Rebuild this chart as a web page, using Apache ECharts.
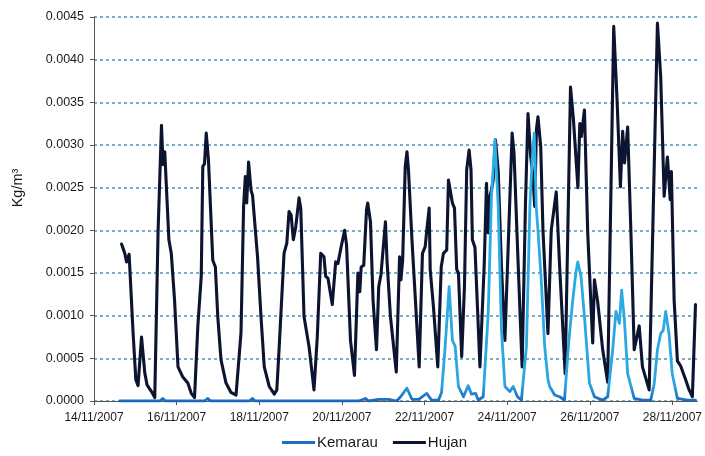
<!DOCTYPE html>
<html>
<head>
<meta charset="utf-8">
<script src="https://cdn.jsdelivr.net/npm/echarts@6/dist/echarts.min.js"></script>
<style>
  html, body { margin: 0; padding: 0; background: #fff; }
  #chart { width: 705px; height: 456px; }
</style>
</head>
<body>
<div id="chart"></div>
<script>
// Hours after 14/11/2007 00:00 and concentration (Kg/m3)
const tickLabels = ['14/11/2007', '16/11/2007', '18/11/2007', '20/11/2007',
  '22/11/2007', '24/11/2007', '26/11/2007', '28/11/2007'];

const hujanHours = [16.0, 17.9, 18.9, 20.4, 22.7, 24.3, 25.6, 27.6, 28.5, 29.5, 30.8, 33.4, 35.3,
  37.2, 39.2, 40.1, 41.1, 43.5, 44.9, 46.8, 48.8, 51.6, 54.5, 56.5, 58.4,
  60.3, 62.3, 63.2, 64.2, 65.2, 66.5, 69.0, 70.5, 71.9, 73.8, 76.7, 79.6, 82.5,
  85.4, 86.9, 87.9, 88.7, 89.8, 91.2, 92.1, 95.0, 97.0, 98.9, 101.8, 104.7, 106.2,
  107.6, 108.5, 110.4, 112.0, 113.3, 114.5, 115.8, 117.2, 119.1, 120.1, 122.0, 124.9, 127.8,
  129.7, 131.7, 133.6, 134.6, 135.9, 138.4, 140.4, 141.7, 143.6, 145.6, 146.7, 149.0, 151.3,
  153.3, 154.4, 155.2, 156.7, 158.3, 159.0, 160.6, 162.1, 164.1,
  165.4, 166.7, 169.3, 170.2, 172.2, 175.6,
  177.5, 178.3, 179.3, 180.8, 181.8, 182.7, 184.7, 186.6, 188.9,
  190.8, 192.4, 193.3, 194.7, 195.3, 197.2, 199.7,
  201.7, 203.0, 204.9, 205.9, 206.9, 208.2, 209.4, 210.7, 211.7, 213.6,
  215.2, 216.5, 217.9, 219.0, 219.8, 221.3, 224.2,
  226.7, 228.0, 229.0, 230.0, 230.9, 231.9, 233.2, 234.8, 236.7, 238.7,
  240.6, 242.9, 244.0, 246.0, 248.7,
  250.6, 252.1, 253.7, 255.0, 256.0, 257.0, 257.9, 259.5, 260.8, 263.7,
  265.6, 268.5, 270.5, 273.7,
  276.8, 278.5, 281.1, 282.2, 283.1, 284.9, 286.8, 289.7, 290.7, 292.6, 295.5, 298.4,
  301.9, 303.8, 305.8, 307.1, 308.2, 310.0, 311.9, 313.8, 316.7, 318.6, 322.5,
  327.3, 329.2, 331.2, 333.1, 334.7, 335.4, 337.0, 338.9, 340.8, 343.7, 345.7, 347.6, 349.4];

const hujanValues = [0.00184, 0.00173, 0.00163, 0.00172, 0.00080, 0.00025, 0.00018, 0.00075, 0.00074, 0.00033, 0.00019, 0.00011, 0.00004,
  0.00197, 0.00323, 0.00277, 0.00292, 0.00189, 0.00173, 0.00118, 0.00040, 0.00028, 0.00021, 0.00009, 0.00004,
  0.00087, 0.00146, 0.00275, 0.00278, 0.00314, 0.00282, 0.00165, 0.00157, 0.00099, 0.00048, 0.00021, 0.00010, 0.00007,
  0.00080, 0.00228, 0.00263, 0.00232, 0.00280, 0.00247, 0.00241, 0.00169, 0.00099, 0.00040, 0.00017, 0.00008, 0.00013,
  0.00064, 0.00064, 0.00173, 0.00185, 0.00222, 0.00218, 0.00189, 0.00204, 0.00238, 0.00226, 0.00099, 0.00064, 0.00013,
  0.00075, 0.00173, 0.00169, 0.00146, 0.00144, 0.00113, 0.00163, 0.00161, 0.00181, 0.00200, 0.00183, 0.00071, 0.00030,
  0.00150, 0.00128, 0.00157, 0.00159, 0.00224, 0.00232, 0.00210, 0.00118, 0.00060,
  0.00134, 0.00148, 0.00210, 0.00165, 0.00099, 0.00034,
  0.00169, 0.00142, 0.00165, 0.00275, 0.00292, 0.00270, 0.00189, 0.00122, 0.00040,
  0.00173, 0.00181, 0.00200, 0.00226, 0.00154, 0.00110, 0.00040,
  0.00157, 0.00173, 0.00177, 0.00259, 0.00261, 0.00232, 0.00226, 0.00154, 0.00150, 0.00052,
  0.00134, 0.00271, 0.00294, 0.00271, 0.00189, 0.00180, 0.00040,
  0.00161, 0.00255, 0.00197, 0.00240, 0.00247, 0.00259, 0.00306, 0.00270, 0.00157, 0.00071,
  0.00181, 0.00314, 0.00290, 0.00181, 0.00040,
  0.00228, 0.00337, 0.00286, 0.00263, 0.00228, 0.00318, 0.00333, 0.00298, 0.00200, 0.00079,
  0.00200, 0.00245, 0.00157, 0.00032,
  0.00368, 0.00330, 0.00250, 0.00325, 0.00310, 0.00341, 0.00197, 0.00068, 0.00142, 0.00116, 0.00060, 0.00022,
  0.00439, 0.00355, 0.00251, 0.00316, 0.00279, 0.00321, 0.00197, 0.00060, 0.00088, 0.00040, 0.00013,
  0.00443, 0.00380, 0.00240, 0.00286, 0.00236, 0.00269, 0.00118, 0.00047, 0.00041, 0.00025, 0.00013, 0.00005, 0.00113];

const kemarauHours = [15.0, 38.2, 39.9, 41.6, 64.2, 66.1, 67.7, 90.2, 92.1, 93.7,
  153.8, 157.7, 159.6, 165.4, 171.2, 175.8, 178.1, 181.8, 184.7, 188.6, 193.3, 196.1, 200.1,
  201.9, 204.0, 206.3, 208.2, 209.8, 211.7, 214.6, 217.4, 219.3, 221.7, 223.2,
  226.1, 229.0, 230.9, 232.9, 234.8, 236.7, 238.7, 241.6, 243.5, 246.0, 248.3,
  251.2, 253.2, 254.5, 255.7, 257.0, 257.9, 259.8, 261.8, 263.7, 264.7, 267.6, 270.5, 273.3,
  275.8, 278.1, 279.9, 281.0, 282.9, 284.9, 287.8, 290.7, 295.5,
  298.4, 301.3, 303.2, 305.2, 306.5, 308.1, 310.0, 313.8, 318.6, 323.4,
  325.4, 327.3, 329.2, 330.7, 332.1, 334.0, 335.9, 338.9, 344.7, 349.4];

const kemarauValues = [0, 0, 0.00003, 0, 0, 0.00003, 0, 0, 0.00003, 0,
  0, 0.00003, 0, 0.00002, 0.00002, 0, 0.00005, 0.00015, 0.00002, 0.00002, 0.00009, 0.00001, 0.00001,
  0.00010, 0.00064, 0.00134, 0.00071, 0.00064, 0.00017, 0.00005, 0.00018, 0.00008, 0.00009, 0.00001,
  0.00005, 0.00103, 0.00240, 0.00306, 0.00228, 0.00083, 0.00017, 0.00011, 0.00017, 0.00005, 0.00001,
  0.00064, 0.00228, 0.00282, 0.00314, 0.00224, 0.00200, 0.00142, 0.00064, 0.00025, 0.00017, 0.00007, 0.00005, 0.00001,
  0.00070, 0.00118, 0.00150, 0.00163, 0.00146, 0.00099, 0.00021, 0.00005, 0.00001,
  0.00005, 0.00060, 0.00105, 0.00091, 0.00130, 0.00095, 0.00032, 0.00003, 0.00001, 0.00001,
  0.00020, 0.00060, 0.00079, 0.00083, 0.00105, 0.00079, 0.00032, 0.00003, 0.00001, 0.00001];

const zip = (xs, ys) => xs.map((x, i) => [x, ys[i]]);

const chart = echarts.init(document.getElementById('chart'), null, { renderer: 'canvas' });

const txt = '#1a1a1a';
const fontFam = '"Liberation Sans", Arial, sans-serif';

chart.setOption({
  animation: false,
  backgroundColor: '#ffffff',
  grid: { left: 94, top: 17, right: 5, bottom: 55, containLabel: false },
  // rotated unit title beside the value axis
  graphic: [{
    type: 'text',
    x: 18,
    y: 188,
    rotation: Math.PI / 2,
    style: {
      text: 'Kg/m³',
      fontFamily: fontFam,
      fontSize: 14.5,
      fill: txt,
      align: 'center',
      verticalAlign: 'middle'
    }
  }],
  legend: {
    bottom: 1,
    left: 277,
    itemWidth: 33,
    itemHeight: 3,
    itemGap: 15,
    icon: 'rect',
    textStyle: { fontFamily: fontFam, fontSize: 15, color: txt, padding: [0, 0, 0, -3] },
    data: [
      { name: 'Kemarau', itemStyle: { color: '#1d6cc6' } },
      { name: 'Hujan', itemStyle: { color: '#0d1430' } }
    ]
  },
  xAxis: {
    type: 'value',
    min: 0,
    max: 350.5,
    interval: 48,
    axisLine: { lineStyle: { color: '#555', width: 1 } },
    axisTick: { show: true, length: 4, lineStyle: { color: '#555' } },
    splitLine: { show: false },
    axisLabel: {
      showMaxLabel: false,
      margin: 11,
      fontFamily: fontFam,
      fontSize: 12,
      color: txt,
      formatter: function (v) {
        const i = Math.round(v / 48);
        return (Math.abs(v - i * 48) < 0.01 && tickLabels[i]) ? tickLabels[i] : '';
      }
    }
  },
  yAxis: {
    type: 'value',
    min: 0,
    max: 0.0045,
    interval: 0.0005,
    axisLine: { show: true, lineStyle: { color: '#555', width: 1 } },
    axisTick: { show: true, length: 4, lineStyle: { color: '#555' } },
    axisLabel: {
      margin: 10,
      fontFamily: fontFam,
      fontSize: 12.5,
      color: txt,
      formatter: v => v.toFixed(4)
    },
    splitLine: {
      show: true,
      lineStyle: { color: '#4f93b8', width: 1.5, type: [3, 3] }
    }
  },
  series: [
    {
      name: 'Hujan',
      type: 'line',
      data: zip(hujanHours, hujanValues),
      showSymbol: false,
      symbol: 'none',
      smooth: false,
      z: 2,
      lineStyle: { color: '#0d1430', width: 3.1, join: 'round', cap: 'round' },
      itemStyle: { color: '#0d1430' }
    },
    {
      name: 'Kemarau',
      type: 'line',
      data: zip(kemarauHours, kemarauValues),
      showSymbol: false,
      symbol: 'none',
      smooth: false,
      z: 3,
      lineStyle: {
        width: 2.8,
        join: 'round',
        cap: 'round',
        color: new echarts.graphic.LinearGradient(0, 0, 0, 1, [
          { offset: 0, color: '#2cb0e8' },
          { offset: 0.93, color: '#2aa6e0' },
          { offset: 1, color: '#1a5fbe' }
        ])
      },
      itemStyle: { color: '#1d6cc6' }
    }
  ]
});
</script>
</body>
</html>
